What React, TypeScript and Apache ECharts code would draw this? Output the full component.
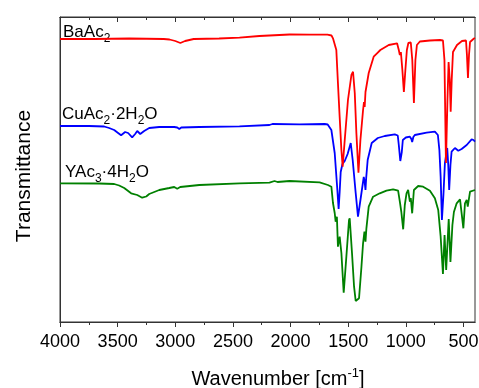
import React, { useEffect, useRef } from 'react';
import * as echarts from 'echarts';

const majorTicks = [4000, 3500, 3000, 2500, 2000, 1500, 1000, 500];
const minorTicks = [3750, 3250, 2750, 2250, 1750, 1250, 750];

const baAc2: [number, number][] = [
  [4000, 283], [3700, 283], [3400, 283.5], [3100, 283], [3050, 282.5], [3000, 281], [2956, 279], [2915, 281],
  [2840, 283], [2620, 283.5], [2443, 284.3], [2270, 286], [2009, 287.5], [1835, 287.4], [1680, 287.3], [1645, 286.5],
  [1632, 283.7], [1603, 272], [1589, 239], [1574, 205], [1559, 172], [1548, 155.3], [1530, 182], [1502, 222],
  [1472, 247], [1458, 250.3], [1443, 229], [1429, 189], [1411, 149.3], [1394, 182], [1371, 212], [1363, 220],
  [1357, 215], [1350, 230], [1322, 249], [1279, 265.3], [1250, 268.7], [1221, 272], [1148, 277], [1076, 278.7],
  [1061, 272], [1052, 267], [1043, 270], [1030, 252], [1017, 230], [1004, 252], [991, 272], [978, 279],
  [957, 279.5], [944, 262], [930, 219], [917, 262], [904, 277], [878, 280.5], [791, 281.5], [704, 282],
  [678, 281.5], [665, 262], [652, 159], [639, 222], [629, 260], [619, 242], [611, 210.3], [602, 242],
  [591, 270], [556, 277], [513, 281], [478, 281.5], [470, 267], [461, 244], [452, 267], [443, 280],
  [409, 283.5], [400, 284],
];

const cuAc2: [number, number][] = [
  [4000, 196], [3748, 196], [3617, 195.5], [3574, 194], [3530, 192], [3496, 189], [3470, 186.7], [3435, 190],
  [3409, 189], [3374, 184.7], [3348, 188], [3330, 191], [3304, 188], [3270, 191], [3226, 194], [3139, 195],
  [3009, 195], [2983, 194.5], [2965, 193], [2948, 194.5], [2791, 195], [2443, 195.7], [2183, 197], [2157, 198],
  [1922, 197.7], [1704, 198], [1678, 197.5], [1646, 192], [1617, 169], [1594, 132], [1583, 113], [1574, 130],
  [1565, 150], [1550, 158], [1530, 161], [1505, 168], [1478, 179], [1461, 162], [1435, 129], [1415, 105.3],
  [1400, 117], [1385, 129], [1365, 145], [1357, 140], [1350, 132], [1344, 144], [1331, 162], [1296, 179],
  [1243, 184], [1183, 186], [1096, 187.7], [1070, 186.5], [1061, 177], [1048, 161], [1035, 170], [1026, 182],
  [1000, 184.5], [965, 185.3], [952, 183], [945, 180], [935, 185], [922, 187], [820, 189.3], [748, 190.3],
  [722, 187], [709, 172], [698, 145.3], [687, 102], [674, 127], [661, 159], [641, 174], [632, 157],
  [624, 132], [613, 157], [603, 170.3], [574, 174], [545, 171.3], [516, 173], [472, 177], [429, 182.7],
  [413, 182], [400, 180.3],
];

const yAc3: [number, number][] = [
  [4000, 138.7], [3661, 138.5], [3530, 138], [3487, 136.5], [3443, 134], [3383, 128.7], [3330, 127], [3287, 124.3],
  [3252, 125.5], [3226, 128], [3139, 132], [3052, 134], [3009, 135], [2983, 133.3], [2957, 135], [2791, 137],
  [2443, 138.7], [2183, 139.3], [2139, 141], [2113, 140], [2009, 141], [1748, 139.7], [1676, 137], [1646, 135.3],
  [1632, 119], [1617, 109], [1609, 100.3], [1598, 105.3], [1589, 75.3], [1574, 85.3], [1559, 69], [1539, 29.3],
  [1516, 65.3], [1493, 102], [1487, 103.7], [1467, 69], [1449, 35.3], [1435, 21], [1406, 23.7], [1385, 55.3],
  [1371, 78.7], [1359, 90.3], [1350, 80.3], [1342, 93.7], [1322, 115.3], [1284, 125.3], [1226, 128.7], [1168, 131.3],
  [1110, 132.7], [1067, 131.3], [1052, 120.3], [1039, 110], [1023, 92.7], [1009, 117], [994, 128.7], [980, 132],
  [965, 120.3], [957, 124], [945, 108.7], [930, 132], [893, 136], [850, 135.3], [791, 131.3], [748, 123.7],
  [719, 112], [698, 85.3], [678, 48], [664, 87], [650, 52], [628, 103], [613, 60], [596, 97],
  [583, 110], [559, 118.7], [530, 122.7], [501, 93.7], [487, 118.7], [472, 122], [463, 115.3], [443, 130.3],
  [400, 132],
];

const FONT = 'Liberation Sans, Arial, Helvetica, sans-serif';
const AXIS_COLOR = '#333';

export default function App() {
  const ref = useRef<HTMLDivElement>(null);
  useEffect(() => {
    const chart = echarts.init(ref.current!, null, { renderer: 'svg' });
    const lineStyle = { color: AXIS_COLOR, width: 1 };
    const baseX: any = {
      type: 'value',
      min: 400,
      max: 4000,
      inverse: true,
      splitLine: { show: false },
      axisLine: { show: true, onZero: false, lineStyle },
    };
    const subRich = {
      a: { fontSize: 17, fontFamily: FONT, fill: '#000', lineHeight: 22 },
      s: { fontSize: 12, fontFamily: FONT, fill: '#000', lineHeight: 12, padding: [13, 0, 0, 0] },
    };
    const label = (text: string, x: number, y: number) => ({
      type: 'text',
      x,
      y,
      style: { text, rich: subRich, align: 'left', verticalAlign: 'middle', fill: '#000' },
    });
    chart.setOption({
      animation: false,
      grid: {
        left: 60, right: 4, top: 17, bottom: 66,
        show: true, borderColor: AXIS_COLOR, borderWidth: 1,
        containLabel: false, outerBoundsMode: 'none',
      },
      xAxis: [
        {
          ...baseX,
          position: 'bottom',
          axisTick: { show: true, customValues: majorTicks, length: 5, lineStyle },
          axisLabel: {
            show: true, customValues: majorTicks, fontSize: 18, color: '#000', margin: 10, fontFamily: FONT,
            formatter: (v: number) => String(v),
          },
        },
        {
          ...baseX,
          position: 'bottom',
          axisTick: { show: true, customValues: minorTicks, length: 3, lineStyle },
          axisLabel: { show: false },
        },
        {
          ...baseX,
          position: 'top',
          axisTick: { show: true, inside: true, customValues: majorTicks, length: 5, lineStyle },
          axisLabel: { show: false },
        },
        {
          ...baseX,
          position: 'top',
          axisTick: { show: true, inside: true, customValues: minorTicks, length: 3, lineStyle },
          axisLabel: { show: false },
        },
      ],
      yAxis: {
        type: 'value',
        min: 0,
        max: 305,
        axisLine: { show: true, lineStyle },
        axisTick: { show: false },
        axisLabel: { show: false },
        splitLine: { show: false },
      },
      series: [
        { name: 'YAc3·4H2O', type: 'line', data: yAc3, symbol: 'none', lineStyle: { color: '#008000', width: 1.8 }, itemStyle: { color: '#008000' } },
        { name: 'CuAc2·2H2O', type: 'line', data: cuAc2, symbol: 'none', lineStyle: { color: '#0000ff', width: 1.8 }, itemStyle: { color: '#0000ff' } },
        { name: 'BaAc2', type: 'line', data: baAc2, symbol: 'none', lineStyle: { color: '#ff0000', width: 1.8 }, itemStyle: { color: '#ff0000' } },
      ],
      graphic: [
        label('{a|BaAc}{s|2}', 63, 31.3),
        label('{a|CuAc}{s|2}{a|·2H}{s|2}{a|O}', 62, 113),
        label('{a|YAc}{s|3}{a|·4H}{s|2}{a|O}', 65, 171.3),
        {
          type: 'text',
          x: 22,
          y: 176,
          rotation: Math.PI / 2,
          style: { text: 'Transmittance', fontSize: 21, fontFamily: FONT, fill: '#000', align: 'center', verticalAlign: 'middle' },
        },
        {
          type: 'text',
          x: 278,
          y: 378,
          style: {
            text: '{a|Wavenumber [cm}{s|-1}{a|]}',
            rich: {
              a: { fontSize: 20, fontFamily: FONT, fill: '#000', lineHeight: 24 },
              s: { fontSize: 13, fontFamily: FONT, fill: '#000', lineHeight: 13, padding: [0, 0, 12, 0] },
            },
            align: 'center',
            verticalAlign: 'middle',
            fill: '#000',
          },
        },
      ],
    });
    return () => chart.dispose();
  }, []);
  return <div ref={ref} style={{ position: 'fixed', left: 0, top: 0, width: 479, height: 388 }} />;
}
